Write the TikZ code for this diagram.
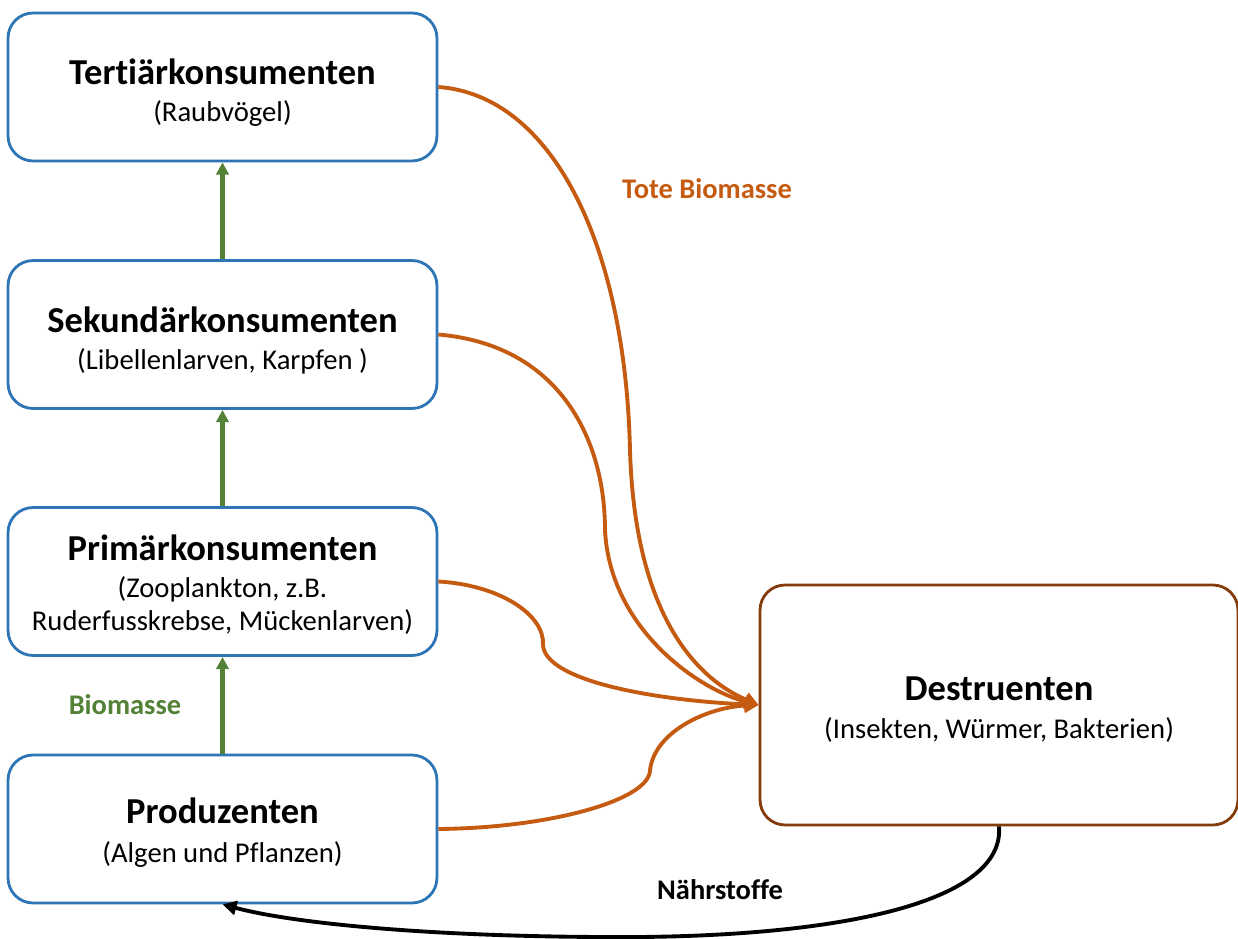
\documentclass[tikz,border=0pt]{standalone}
\usepackage{fontspec}
\setmainfont{Carlito}[Ligatures=NoCommon]
\usepackage{tikz}
\usetikzlibrary{arrows.meta,positioning}
\definecolor{boxblue}{HTML}{2E75B6}
\definecolor{deadorange}{HTML}{C55A11}
\definecolor{massgreen}{HTML}{538135}
\definecolor{destbrown}{HTML}{843C0C}
\newcommand{\lvlname}[1]{{\fontsize{20.8}{20}\selectfont\bfseries #1}}
\newcommand{\lvlnote}[1]{{\fontsize{16.3}{20}\selectfont #1}}

\begin{document}
\begin{tikzpicture}[x=0.02cm, y=-0.02cm,
  level/.style={draw=boxblue, line width=1.6pt, rounded corners=0.5cm, fill=white,
    minimum width=8.58cm, minimum height=2.96cm},
  lvltext/.style={align=center, inner sep=0pt, font=\fontsize{16.3}{20}\selectfont},
  flow/.style={-{Triangle[length=7pt,width=7pt]}, line width=2.6pt, massgreen},
  dead/.style={-{Triangle[length=8pt,width=8pt]}, line width=2.2pt, deadorange},
  tag/.style={font=\fontsize{16.2}{19}\selectfont\bfseries}]
  \useasboundingbox (0,0) rectangle (1238,939);

  % Trophic levels
  \node[level] (tert) at (222.5,87) {};
  \node[lvltext] (tert-t) at ([yshift=-3.1pt]tert.center) {\lvlname{Tertiärkonsumenten}\\[1pt]
    \lvlnote{(Raubvögel)}};
  \node[level] (sek) at (222.5,334.5) {};
  \node[lvltext] (sek-t) at ([yshift=-3.4pt]sek.center) {\lvlname{Sekundärkonsumenten}\\[1pt]
    \lvlnote{(Libellenlarven, Karpfen )}};
  \node[level] (prim) at (222.5,581.5) {};
  \node[lvltext] (prim-t) at ([yshift=-2pt]prim.center) {\lvlname{Primärkonsumenten}\\[1pt]
    \lvlnote{(Zooplankton, z.B.}\\[-1.3pt]
    \lvlnote{Ruderfusskrebse, Mückenlarven)}};
  \node[level] (prod) at (222.5,829) {};
  \node[lvltext] (prod-t) at ([yshift=-2.3pt]prod.center) {\lvlname{Produzenten}\\[2.1pt]
    \lvlnote{(Algen und Pflanzen)}};

  % Decomposers
  \node[level, draw=destbrown, minimum width=9.56cm, minimum height=4.8cm] (dest) at (999,705) {};
  \node[lvltext] (dest-t) at ([yshift=-2.55pt]dest.center) {\lvlname{Destruenten}\\[1.4pt]
    \lvlnote{(Insekten, Würmer, Bakterien)}};

  % Biomass up the chain
  \draw[flow] (prod.north) -- (prim.south);
  \draw[flow] (prim.north) -- (sek.south);
  \draw[flow] (sek.north) -- (tert.south);
  \node[tag, massgreen] (biolab) at (125,705) {Biomasse};

  % Dead biomass
  \coordinate (in) at (dest.west);
  \draw[dead] (tert.east) .. controls (550,95) and (625,240) .. (630,450)
    .. controls (635,620) and (700,680) .. (in);
  \draw[dead] (sek.east) .. controls (560,345) and (605,440) .. (605,530)
    .. controls (610,630) and (700,690) .. (in);
  \draw[dead] (prim.east) .. controls (500,585) and (545,615) .. (543,645)
    .. controls (545,680) and (650,700) .. (in);
  \draw[dead] (prod.east) .. controls (550,828) and (650,800) .. (650,770)
    .. controls (655,730) and (710,707) .. (in);
  \node[tag, deadorange] (deadlab) at (707,189) {Tote Biomasse};

  % Nutrients back
  \draw[-{Triangle[length=8pt,width=8pt]}, line width=2.2pt] (dest.south) .. controls (1005,900) and (850,935) .. (640,937)
    .. controls (450,938) and (300,925) .. (prod.south);
  \node[tag] (nutlab) at (720,890) {Nährstoffe};
\end{tikzpicture}
\end{document}
